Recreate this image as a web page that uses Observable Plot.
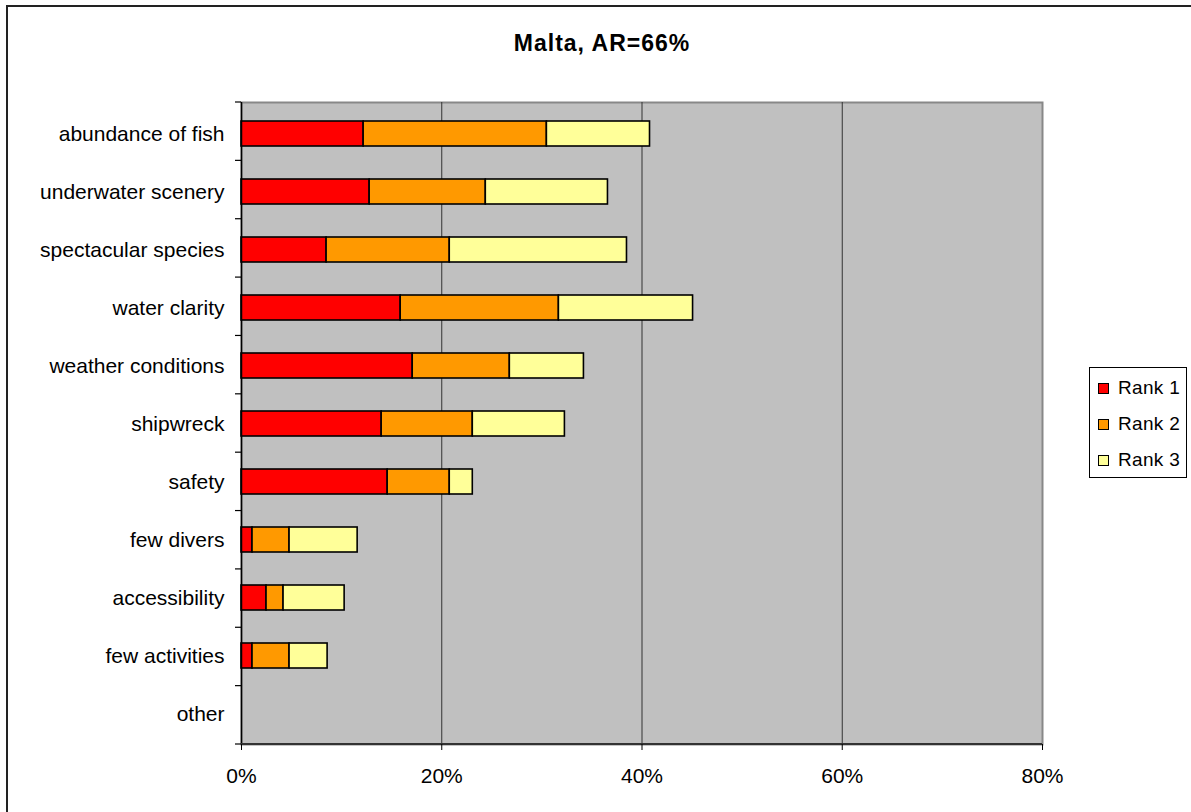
<!DOCTYPE html>
<html>
<head>
<meta charset="utf-8">
<script src="https://cdn.jsdelivr.net/npm/d3@7"></script>
<script src="https://cdn.jsdelivr.net/npm/@observablehq/plot@0.6"></script>
<style>
  html, body { margin: 0; padding: 0; background: #fff; }
  #page { position: relative; width: 1191px; height: 812px; overflow: hidden; font-family: "Liberation Sans", Arial, sans-serif; }
  #frame { position: absolute; left: 6px; top: 5px; width: 1200px; height: 820px; border: 2px solid #222; box-sizing: border-box; }
  #title { position: absolute; left: 0; width: 1204px; top: 30px; text-align: center; font-weight: bold; font-size: 23px; letter-spacing: 1px; color: #000; }
  #chart { position: absolute; left: 0; top: 80px; }
  #legend { position: absolute; left: 1089px; top: 367px; width: 98px; height: 111px; border: 1px solid #000; box-sizing: border-box; background: #fff; }
  .item { position: absolute; left: 8px; height: 20px; display: flex; align-items: center; font-size: 19px; letter-spacing: 0.3px; color: #000; }
  .sw { width: 9px; height: 9px; border: 1px solid #000; margin-right: 9px; }
</style>
</head>
<body>
<div id="page">
  <div id="frame"></div>
  <div id="title">Malta, AR=66%</div>
  <div id="chart"></div>
  <div id="legend"></div>
</div>
<script>
const categories = ["abundance of fish","underwater scenery","spectacular species","water clarity","weather conditions","shipwreck","safety","few divers","accessibility","few activities","other"];
const rank1 = [12.2, 12.8, 8.5, 15.9, 17.1, 14.0, 14.6, 1.1, 2.5, 1.1, 0];
const rank2 = [18.3, 11.6, 12.3, 15.8, 9.7, 9.1, 6.2, 3.7, 1.7, 3.7, 0];
const rank3 = [10.3, 12.2, 17.7, 13.4, 7.4, 9.2, 2.3, 6.8, 6.1, 3.8, 0];
const ranks = ["Rank 1", "Rank 2", "Rank 3"];
const colors = ["#FF0000", "#FF9900", "#FFFF99"];
const xTicks = [0, 20, 40, 60, 80];
const gridTicks = [20, 40, 60];

const series = [rank1, rank2, rank3];
const data = [];
categories.forEach((c, i) => {
  ranks.forEach((r, j) => {
    if (series[j][i] > 0) data.push({category: c, rank: r, value: series[j][i]});
  });
});

// band boundary ticks + bottom axis line (computed from the frame dimensions)
function boundaryTicks(index, scales, values, dim) {
  const g = d3.create("svg:g");
  const top = dim.marginTop, bottom = dim.height - dim.marginBottom;
  const left = dim.marginLeft, right = dim.width - dim.marginRight;
  const n = categories.length;
  const step = (bottom - top) / n;
  for (let i = 0; i <= n; i++) {
    const y = top + i * step;
    g.append("line").attr("x1", left - 6).attr("x2", left).attr("y1", y).attr("y2", y)
      .attr("stroke", "#000").attr("stroke-width", 1.2);
  }
  g.append("line").attr("x1", left).attr("x2", right).attr("y1", bottom).attr("y2", bottom)
    .attr("stroke", "#333").attr("stroke-width", 2);
  return g.node();
}

const chart = Plot.plot({
  width: 1191,
  height: 732,
  marginTop: 22,
  marginBottom: 68,
  marginLeft: 241,
  marginRight: 149,
  style: {fontFamily: "'Liberation Sans', Arial, sans-serif", fontSize: "20px", color: "#000", background: "transparent", overflow: "visible"},
  x: {domain: [0, 80], label: null},
  y: {domain: categories, paddingInner: 0.57, paddingOuter: 0.285, label: null},
  color: {domain: ranks, range: colors},
  marks: [
    Plot.frame({fill: "#C0C0C0", stroke: "#888", strokeWidth: 2}),
    Plot.ruleX(gridTicks, {stroke: "#333", strokeWidth: 1}),
    Plot.barX(data, Plot.stackX({x: "value", y: "category", fill: "rank", stroke: "#000", strokeWidth: 1.6})),
    Plot.ruleX([0], {stroke: "#000", strokeWidth: 1.5}),
    boundaryTicks,
    Plot.axisY({tickSize: 0, tickPadding: 17, fontSize: 21, style: {letterSpacing: "0.6px"}}),
    Plot.axisX({ticks: xTicks, tickFormat: d => d + "%", tickSize: 6, tickPadding: 18, fontSize: 21, stroke: "#000"})
  ]
});
document.getElementById("chart").appendChild(chart);

const legend = document.getElementById("legend");
ranks.forEach((r, j) => {
  const it = document.createElement("div");
  it.className = "item";
  it.style.top = (10 + j * 36) + "px";
  const sw = document.createElement("div");
  sw.className = "sw";
  sw.style.background = colors[j];
  const t = document.createElement("span");
  t.textContent = r;
  it.appendChild(sw);
  it.appendChild(t);
  legend.appendChild(it);
});
</script>
</body>
</html>
